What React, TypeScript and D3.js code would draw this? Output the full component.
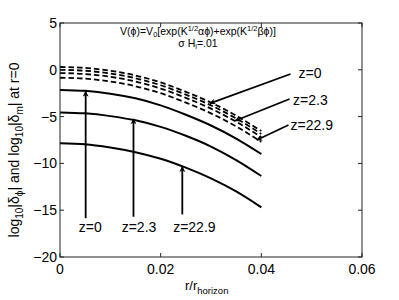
import React from "react";
import * as d3 from "d3";

const rValues = [0, 0.005, 0.01, 0.015, 0.02, 0.025, 0.03, 0.035, 0.04];
const solidZ0 = [-2.15, -2.25, -2.55, -3.05, -3.8, -4.8, -5.95, -7.35, -9.0];
const solidZ23 = [-4.55, -4.65, -4.95, -5.4, -6.1, -7.05, -8.2, -9.65, -11.35];
const solidZ229 = [-7.85, -7.95, -8.3, -8.8, -9.5, -10.45, -11.6, -13.0, -14.7];
const dashedA = [0.3, 0.2, -0.1, -0.6, -1.35, -2.35, -3.5, -4.9, -6.55];
const dashedB = [0.0, -0.1, -0.4, -0.9, -1.65, -2.65, -3.8, -5.2, -6.85];
const dashedC = [-0.35, -0.45, -0.75, -1.25, -2.0, -3.0, -4.15, -5.55, -7.2];
const dashedD = [-0.85, -0.95, -1.25, -1.75, -2.5, -3.5, -4.65, -6.05, -7.7];

const xTicks = [0, 0.02, 0.04, 0.06];
const xTickLabels = ["0", "0.02", "0.04", "0.06"];
const yTicks = [5, 0, -5, -10, -15, -20];
const yTickLabels = ["5", "0", "\u22125", "\u221210", "\u221215", "\u221220"];

// annotations: [tailR, tailV, tipR, tipV]
const upArrows = [
  [0.0051, -15.85, 0.0051, -2.3],
  [0.0146, -15.7, 0.0146, -5.25],
  [0.0243, -15.45, 0.0243, -10.35],
];
const upLabels = ["z=0", "z=2.3", "z=22.9"];
const upLabelPos = [
  [0.006, -17.3],
  [0.0157, -17.3],
  [0.0267, -17.3],
];
const sideArrows = [
  [0.0458, -0.45, 0.0298, -3.58],
  [0.0456, -3.12, 0.0348, -5.44],
  [0.0454, -5.9, 0.0391, -7.5],
];
const sideLabels = ["z=0", "z=2.3", "z=22.9"];
const sideLabelPos = [
  [0.0474, -0.88],
  [0.0463, -3.76],
  [0.0458, -6.43],
];

const W = 399;
const H = 300;
const left = 60;
const right = 362;
const top = 23;
const bottom = 257;
const font = "'Liberation Sans', Arial, Helvetica, sans-serif";

export default function App() {
  const x = d3.scaleLinear().domain([0, 0.06]).range([left, right]);
  const y = d3.scaleLinear().domain([-20, 5]).range([bottom, top]);
  const line = d3
    .line<number>()
    .x((_, i) => x(rValues[i]))
    .y((d) => y(d))
    .curve(d3.curveMonotoneX);

  const solids = [solidZ0, solidZ23, solidZ229];
  const dashes = [dashedA, dashedB, dashedC, dashedD];
  const tickLen = 4;

  return (
    <svg
      width={W}
      height={H}
      style={{ position: "absolute", left: 0, top: 0, background: "#fff" }}
      fontFamily={font}
    >
      <defs>
        <marker
          id="ah"
          viewBox="0 0 10 10"
          refX="9"
          refY="5"
          markerWidth="8"
          markerHeight="6"
          markerUnits="userSpaceOnUse"
          orient="auto"
        >
          <path d="M0,0 L10,5 L0,10 L3,5 Z" fill="#000" />
        </marker>
      </defs>
      <rect x={0} y={0} width={W} height={H} fill="#fff" />

      {solids.map((s, i) => (
        <path key={"s" + i} d={line(s) || ""} fill="none" stroke="#000" strokeWidth={2} />
      ))}
      {dashes.map((s, i) => (
        <path
          key={"d" + i}
          d={line(s) || ""}
          fill="none"
          stroke="#000"
          strokeWidth={1.8}
          strokeDasharray="5.5,3"
        />
      ))}

      {[...upArrows, ...sideArrows].map((a, i) => (
        <line
          key={"a" + i}
          x1={x(a[0])}
          y1={y(a[1])}
          x2={x(a[2])}
          y2={y(a[3])}
          stroke="#000"
          strokeWidth={1.8}
          markerEnd="url(#ah)"
        />
      ))}
      {upLabels.map((t, i) => (
        <text
          key={"ul" + i}
          x={x(upLabelPos[i][0])}
          y={y(upLabelPos[i][1])}
          fontSize={14}
          textAnchor="middle"
        >
          {t}
        </text>
      ))}
      {sideLabels.map((t, i) => (
        <text key={"sl" + i} x={x(sideLabelPos[i][0])} y={y(sideLabelPos[i][1])} fontSize={14}>
          {t}
        </text>
      ))}

      <rect x={left} y={top} width={right - left} height={bottom - top} fill="none" stroke="#222" strokeWidth={1} />

      {xTicks.map((t, i) => (
        <g key={"xt" + i}>
          <line x1={x(t)} x2={x(t)} y1={bottom} y2={bottom - tickLen} stroke="#222" />
          <line x1={x(t)} x2={x(t)} y1={top} y2={top + tickLen} stroke="#222" />
          <text x={x(t)} y={bottom + 17} fontSize={14} textAnchor="middle">
            {xTickLabels[i]}
          </text>
        </g>
      ))}
      {yTicks.map((t, i) => (
        <g key={"yt" + i}>
          <line x1={left} x2={left + tickLen} y1={y(t)} y2={y(t)} stroke="#222" />
          <line x1={right} x2={right - tickLen} y1={y(t)} y2={y(t)} stroke="#222" />
          <text x={left - 3} y={y(t) + 5} fontSize={14} textAnchor="end">
            {yTickLabels[i]}
          </text>
        </g>
      ))}

      <text x={198} y={35} fontSize={10.5} textAnchor="middle">
        V(ϕ)=V
        <tspan fontSize={7.5} dy={2}>0</tspan>
        <tspan dy={-2}>[exp(K</tspan>
        <tspan fontSize={7.5} dy={-4}>1/2</tspan>
        <tspan dy={4}>αϕ)+exp(K</tspan>
        <tspan fontSize={7.5} dy={-4}>1/2</tspan>
        <tspan dy={4}>βϕ)]</tspan>
      </text>
      <text x={198} y={47} fontSize={10.5} textAnchor="middle">
        σ H
        <tspan fontSize={7.5} dy={2}>i</tspan>
        <tspan dy={-2}>=.01</tspan>
      </text>

      <text x={185} y={290} fontSize={13}>
        r/r
        <tspan fontSize={9.5} dy={4}>horizon</tspan>
      </text>

      <text transform="translate(19,150) rotate(-90)" fontSize={14} textAnchor="middle">
        log
        <tspan fontSize={10} dy={4}>10</tspan>
        <tspan dy={-4}>|δ</tspan>
        <tspan fontSize={10} dy={4}>ϕ</tspan>
        <tspan dy={-4}>| and log</tspan>
        <tspan fontSize={10} dy={4}>10</tspan>
        <tspan dy={-4}>|δ</tspan>
        <tspan fontSize={10} dy={4}>m</tspan>
        <tspan dy={-4}>| at r=0</tspan>
      </text>
    </svg>
  );
}
